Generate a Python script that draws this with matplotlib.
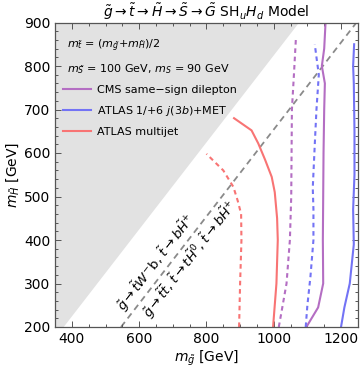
import numpy as np
import matplotlib
matplotlib.use("Agg")
import matplotlib.pyplot as plt
from matplotlib.ticker import MultipleLocator

# mass offsets of the kinematic lines (top mass)
m_top = 173
gray_shift = m_top        # shaded region: m_g < m_H + m_t
dash_shift = 2 * m_top    # dashed line: m_g = m_H + 2 m_t

# CMS same-sign dilepton (solid = observed, dashed = expected)
cms_obs_x = [1097, 1132, 1147, 1146, 1147, 1148, 1150, 1152, 1143, 1150, 1154]
cms_obs_y = [200, 245, 300, 400, 500, 600, 700, 760, 800, 840, 900]
cms_exp_x = [1015, 1022, 1038, 1048, 1052, 1053, 1054, 1060, 1066]
cms_exp_y = [200, 230, 300, 400, 500, 600, 700, 780, 865]

# ATLAS 1/+6 j(3b)+MET
atl_obs_x = [1200, 1210, 1226, 1238, 1236, 1240, 1240, 1238, 1236, 1239]
atl_obs_y = [200, 245, 300, 390, 470, 550, 650, 760, 800, 850]
atl_exp_x = [1095, 1100, 1109, 1118, 1118, 1116, 1122, 1127, 1134, 1127, 1122]
atl_exp_y = [200, 250, 315, 400, 470, 520, 620, 700, 780, 820, 850]

# ATLAS multijet
mj_obs_x = [998, 1008, 1012, 1010, 1003, 994, 974, 954, 934, 882]
mj_obs_y = [200, 300, 400, 450, 510, 545, 585, 622, 652, 680]
mj_exp_x = [897, 900, 904, 903, 893, 880, 850, 800]
mj_exp_y = [200, 300, 400, 460, 490, 522, 560, 598]

labels = ["CMS same\u2212sign dilepton", r"ATLAS 1/+6 $j$(3$b$)+MET", "ATLAS multijet"]
colors = ["#b46ec3", "#7373f5", "#f87474"]

xlim = (350, 1250)
ylim = (200, 900)

fig = plt.figure(figsize=(3.6, 3.75), dpi=100)
ax = fig.add_axes([0.153, 0.128, 0.841, 0.812])
ax.set_xlim(*xlim)
ax.set_ylim(*ylim)

mh = np.array(ylim, dtype=float)
ax.fill_betweenx(mh, xlim[0], mh + gray_shift, color="#e2e2e2", lw=0, zorder=0)
ax.plot(mh + dash_shift, mh, color="#8a8a8a", lw=1.3, dashes=(3.5, 2.5), zorder=1)

series = [(cms_obs_x, cms_obs_y, cms_exp_x, cms_exp_y),
          (atl_obs_x, atl_obs_y, atl_exp_x, atl_exp_y),
          (mj_obs_x, mj_obs_y, mj_exp_x, mj_exp_y)]
handles = []
for (ox, oy, ex, ey), c, lab in zip(series, colors, labels):
    h, = ax.plot(ox, oy, color=c, lw=1.5, label=lab, zorder=2)
    ax.plot(ex, ey, color=c, lw=1.5, dashes=(2.2, 1.8), zorder=2)
    handles.append(h)

ax.legend(handles=handles, loc="upper left", bbox_to_anchor=(0.026, 0.795),
          frameon=False, fontsize=8, handlelength=2.5, handletextpad=0.55,
          labelspacing=0.8, borderpad=0, borderaxespad=0)

ax.text(0.04, 0.925, r"$m_{\tilde{t}}$ = ($m_{\tilde{g}}$+$m_{\tilde{H}}$)/2",
        transform=ax.transAxes, fontsize=8, va="center")
ax.text(0.04, 0.846, r"$m_{\tilde{S}}$ = 100 GeV, $m_S$ = 90 GeV",
        transform=ax.transAxes, fontsize=8, va="center")

# decay labels along the dashed line
p0 = ax.transData.transform((ylim[0] + dash_shift, ylim[0]))
p1 = ax.transData.transform((ylim[1] + dash_shift, ylim[1]))
ang = np.degrees(np.arctan2(p1[1] - p0[1], p1[0] - p0[0]))
ux, uy = -np.sin(np.radians(ang)), np.cos(np.radians(ang))  # normal, upper-left side
ax.annotate(r"$\tilde{g}\to\tilde{t}W^{-}$b, $\tilde{t}\to b\tilde{H}^{+}$",
            xy=(332 + dash_shift, 332), xytext=(8.5 * ux, 8.5 * uy), textcoords="offset points",
            ha="center", va="center", rotation=ang, rotation_mode="anchor", fontsize=9.5)
ax.annotate(r"$\tilde{g}\to\tilde{t}\bar{t}$, $\tilde{t}\to t\tilde{H}^{0}$, $\tilde{t}\to b\tilde{H}^{+}$",
            xy=(375 + dash_shift, 375), xytext=(-9.5 * ux, -9.5 * uy), textcoords="offset points",
            ha="center", va="center", rotation=ang, rotation_mode="anchor", fontsize=9.5)

ax.xaxis.set_major_locator(MultipleLocator(200))
ax.xaxis.set_minor_locator(MultipleLocator(50))
ax.yaxis.set_major_locator(MultipleLocator(100))
ax.yaxis.set_minor_locator(MultipleLocator(20))
ax.tick_params(which="both", direction="in", top=True, right=True,
               color="#555555", labelsize=10, width=0.7)
ax.tick_params(which="major", length=4)
ax.tick_params(which="minor", length=2)
for s in ax.spines.values():
    s.set_color("#555555")
    s.set_linewidth(0.9)

ax.set_xlabel(r"$m_{\tilde{g}}$ [GeV]", fontsize=10, labelpad=2)
ax.set_ylabel(r"$m_{\tilde{H}}$ [GeV]", fontsize=10, labelpad=2)
ax.set_title(r"$\tilde{g}\to\tilde{t}\to\tilde{H}\to\tilde{S}\to\tilde{G}$ SH$_u$$H_d$ Model",
             fontsize=10, pad=3)

fig.savefig("out.png", dpi=100)
